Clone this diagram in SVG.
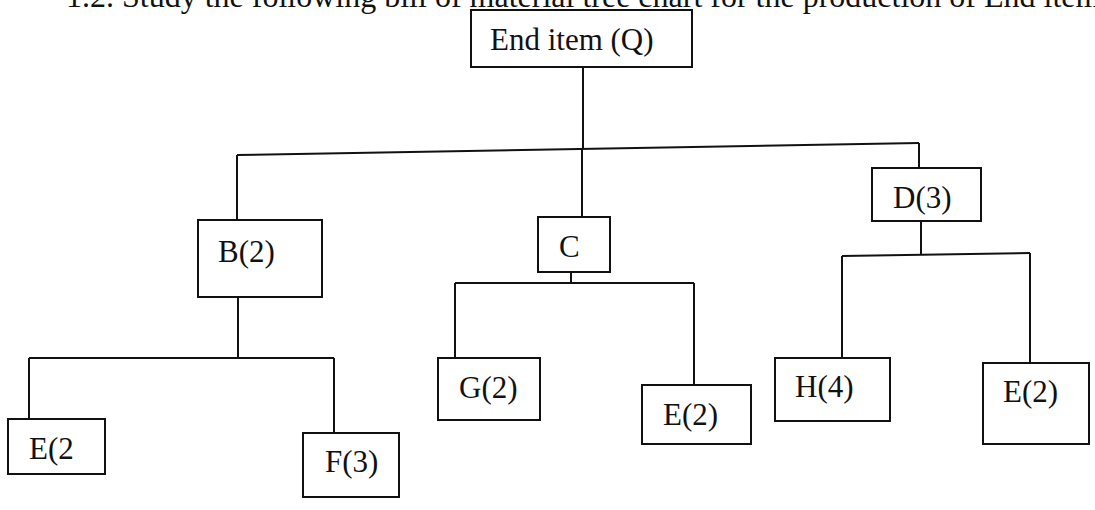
<svg xmlns="http://www.w3.org/2000/svg" width="1095" height="510" viewBox="0 0 1095 510">
  <style>
    .box { fill: #ffffff; stroke: #111111; stroke-width: 2; }
    .lbl { font-family: "Liberation Serif", "Times New Roman", serif; font-size: 31px; fill: #111111; }
    .title { font-family: "Liberation Serif", "Times New Roman", serif; font-size: 32px; fill: #111111; }
    .conn { fill: none; stroke: #111111; stroke-width: 2; }
  </style>
  <rect width="1095" height="510" fill="#ffffff"/>
  <text class="title" x="66" y="7">1.2. Study the following bill of material tree chart for the production of End item</text>

  <g id="connectors">
    <path class="conn" d="M583 67 V149"/>
    <path class="conn" d="M237 155 L919 143"/>
    <path class="conn" d="M237 155 V220"/>
    <path class="conn" d="M582 149 V217"/>
    <path class="conn" d="M919 143 V168"/>
    <path class="conn" d="M238 297 V358"/>
    <path class="conn" d="M29 358 H334"/>
    <path class="conn" d="M29 358 V419"/>
    <path class="conn" d="M334 358 V433"/>
    <path class="conn" d="M571 272 V283"/>
    <path class="conn" d="M455 283 H694"/>
    <path class="conn" d="M455 283 V358"/>
    <path class="conn" d="M694 283 V385"/>
    <path class="conn" d="M921 221 V255"/>
    <path class="conn" d="M842 256 L1030 253"/>
    <path class="conn" d="M842 256 V358"/>
    <path class="conn" d="M1030 253 V363"/>
  </g>

  <g id="node-end-item">
    <rect class="box" x="471" y="10" width="221" height="57"/>
    <text class="lbl" x="490" y="50">End item (Q)</text>
  </g>
  <g id="node-b">
    <rect class="box" x="198" y="220" width="124" height="77"/>
    <text class="lbl" x="218" y="262">B(2)</text>
  </g>
  <g id="node-c">
    <rect class="box" x="538" y="217" width="72" height="55"/>
    <text class="lbl" x="559" y="257">C</text>
  </g>
  <g id="node-d">
    <rect class="box" x="872" y="168" width="109" height="53"/>
    <text class="lbl" x="893" y="208">D(3)</text>
  </g>
  <g id="node-e-b">
    <rect class="box" x="8" y="419" width="97" height="55"/>
    <text class="lbl" x="29" y="459">E(2</text>
  </g>
  <g id="node-f">
    <rect class="box" x="303" y="433" width="96" height="64"/>
    <text class="lbl" x="325" y="472">F(3)</text>
  </g>
  <g id="node-g">
    <rect class="box" x="438" y="358" width="102" height="62"/>
    <text class="lbl" x="459" y="398">G(2)</text>
  </g>
  <g id="node-e-c">
    <rect class="box" x="642" y="385" width="109" height="59"/>
    <text class="lbl" x="663" y="425">E(2)</text>
  </g>
  <g id="node-h">
    <rect class="box" x="775" y="358" width="115" height="63"/>
    <text class="lbl" x="795" y="397">H(4)</text>
  </g>
  <g id="node-e-d">
    <rect class="box" x="983" y="363" width="106" height="81"/>
    <text class="lbl" x="1003" y="402">E(2)</text>
  </g>
</svg>
